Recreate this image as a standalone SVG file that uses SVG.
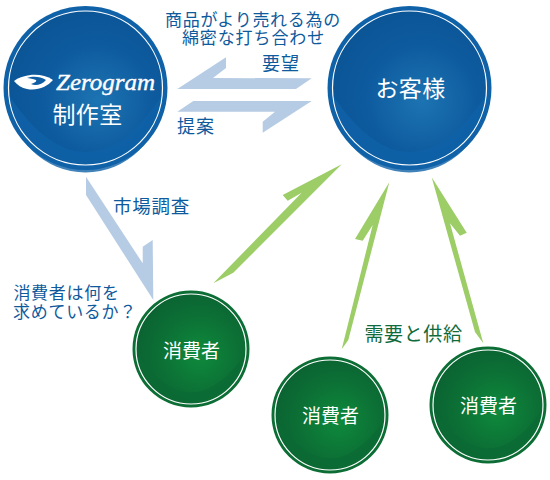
<svg xmlns="http://www.w3.org/2000/svg" width="550" height="480" viewBox="0 0 550 480">
<style>
text{font-family:"Noto Sans CJK JP","Noto Sans",sans-serif;text-anchor:middle}
.b{fill:#0e5a9c;font-size:17px}
.g{fill:#0f6b3c;font-size:19px}
.w{fill:#fff;font-size:19px}
.ab{fill:#b6cce4}
.ag{fill:#9ccd66}
.ring{fill:none;stroke:#fff;stroke-width:1.2}
</style>
<defs>
<radialGradient id="bg" cx="0.58" cy="0.58" r="0.62"><stop offset="0" stop-color="#1d74b2"/><stop offset="0.6" stop-color="#0d5a9e"/><stop offset="1" stop-color="#0b5596"/></radialGradient>
<radialGradient id="gg" cx="0.58" cy="0.55" r="0.62"><stop offset="0" stop-color="#0e8a3c"/><stop offset="0.6" stop-color="#0c6f35"/><stop offset="1" stop-color="#0a6231"/></radialGradient>
</defs>
<g id="connectors">
<polygon class="ab" points="177.3,89 226,57.3 226,68 213,78 311.7,78.3 296,89"/>
<polygon class="ab" points="177.3,111.7 193.3,101 311.7,101 262.7,132.7 262.7,121.7 275,111.7"/>
<polygon class="ab" points="86,176.7 86,195 153.3,300 152.7,240 142.7,246.7 142.7,263.3"/>
<polygon class="ag" points="213.3,283.3 233.3,272.7 341.7,164.3 282.7,195 287.7,200.7 301.7,192.7"/>
<polygon class="ag" points="389.3,182.3 355,239 362.7,240.7 372.7,225 341.7,349.3 348.3,340"/>
<polygon class="ag" points="431.7,177.3 466.7,232.7 460,235.7 450,223.3 483.3,343.3 475,332"/>
</g>
<g id="n-studio">
<circle cx="85.5" cy="88" r="82" fill="#1062a8"/>
<circle cx="85.5" cy="88" r="77" fill="url(#bg)"/>
<path d="M10,97 A75.5,75.5 0 0 0 161,97 Q85.5,207 10,97Z" fill="#0f62a8" opacity="0.8"/>
<circle class="ring" cx="85.5" cy="88" r="77"/>
<path d="M14,81 C24,74 41,72 53,80 C47,87 37,91 27,89 C22,88 17,85 14,81Z" fill="#fff"/>
<path d="M27,78 C32,76 40,76 46,80 C42,85 35,86 31,84 C35,83 37,81 36,80 C33,79 30,78 27,78Z" fill="#0f5da2"/>
<text x="105.5" y="89.5" textLength="99" lengthAdjust="spacingAndGlyphs" style="font-family:'Liberation Serif',serif;font-style:italic;font-size:24px" fill="#fff" stroke="#fff" stroke-width="0.4">Zerogram</text>
<text class="w" x="87.5" y="123" style="font-size:23px;letter-spacing:.4px">制作室</text>
</g>
<g id="n-customer">
<circle cx="409.5" cy="88" r="82" fill="#1062a8"/>
<circle cx="409.5" cy="88" r="77" fill="url(#bg)"/>
<path d="M334,97 A75.5,75.5 0 0 0 485,97 Q409.5,207 334,97Z" fill="#0f62a8" opacity="0.8"/>
<circle class="ring" cx="409.5" cy="88" r="77"/>
<text class="w" x="410.5" y="97" style="font-size:23px;letter-spacing:.4px">お客様</text>
</g>
<g id="n-consumer1">
<circle cx="191" cy="349" r="58.5" fill="#0c6d35"/>
<circle cx="191" cy="349" r="55" fill="url(#gg)"/>
<path d="M137.5,355 A54,54 0 0 0 244.5,355 Q191,430 137.5,355Z" fill="#0b6a35" opacity="0.8"/>
<circle class="ring" cx="191" cy="349" r="55"/>
<text class="w" x="191.5" y="358">消費者</text>
</g>
<g id="n-consumer2">
<circle cx="330" cy="415" r="58.5" fill="#0c6d35"/>
<circle cx="330" cy="415" r="55" fill="url(#gg)"/>
<path d="M276.5,421 A54,54 0 0 0 383.5,421 Q330,496 276.5,421Z" fill="#0b6a35" opacity="0.8"/>
<circle class="ring" cx="330" cy="415" r="55"/>
<text class="w" x="330.5" y="423">消費者</text>
</g>
<g id="n-consumer3">
<circle cx="488" cy="405" r="58.5" fill="#0c6d35"/>
<circle cx="488" cy="405" r="55" fill="url(#gg)"/>
<path d="M434.5,411 A54,54 0 0 0 541.5,411 Q488,486 434.5,411Z" fill="#0b6a35" opacity="0.8"/>
<circle class="ring" cx="488" cy="405" r="55"/>
<text class="w" x="488.5" y="413">消費者</text>
</g>
<g id="labels">
<text class="b"><tspan x="253" y="26" style="letter-spacing:.7px">商品がより売れる為の</tspan><tspan x="253.5" y="43.5" style="letter-spacing:.9px">綿密な打ち合わせ</tspan></text>
<text class="b" x="281" y="69.5" style="font-size:18px;letter-spacing:1px">要望</text>
<text class="b" x="196" y="132.5" style="font-size:18px;letter-spacing:1px">提案</text>
<text class="b" x="151.5" y="212.5" style="font-size:18.5px;letter-spacing:.8px">市場調査</text>
<text class="b" style="letter-spacing:.7px"><tspan x="66.5" y="299">消費者は何を</tspan><tspan x="75" y="318">求めているか？</tspan></text>
<text class="g" x="413.5" y="340.5" style="letter-spacing:.6px">需要と供給</text>
</g>
</svg>
